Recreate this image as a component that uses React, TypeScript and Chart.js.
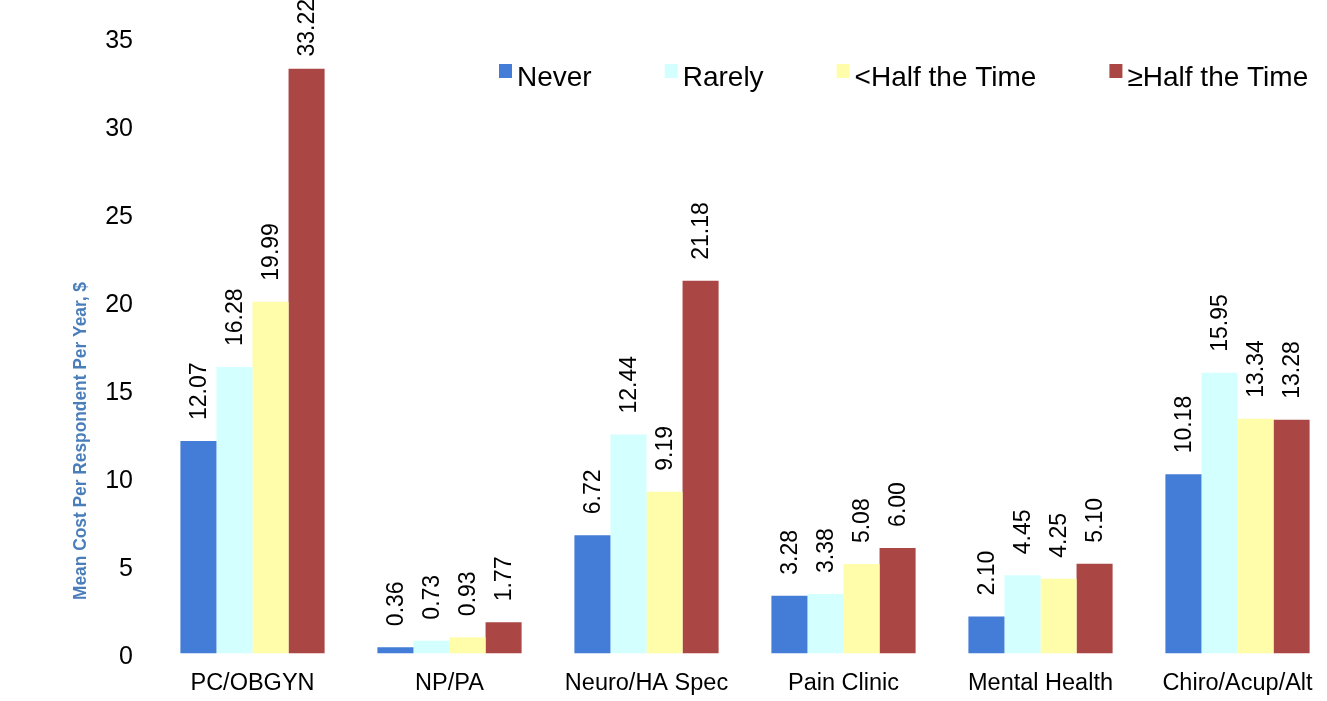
import React, { useEffect, useRef } from "react";
import { Chart, registerables } from "chart.js";

Chart.register(...registerables);

const categories = ["PC/OBGYN", "NP/PA", "Neuro/HA Spec", "Pain Clinic", "Mental Health", "Chiro/Acup/Alt"];
const seriesNames = ["Never", "Rarely", "<Half the Time", "\u2265Half the Time"];
const never = [12.07, 0.36, 6.72, 3.28, 2.1, 10.18];
const rarely = [16.28, 0.73, 12.44, 3.38, 4.45, 15.95];
const lessHalf = [19.99, 0.93, 9.19, 5.08, 4.25, 13.34];
const moreHalf = [33.22, 1.77, 21.18, 6.0, 5.1, 13.28];
const seriesColors = ["#437dd7", "#d3ffff", "#fffcaa", "#aa4643"];
const yTitle = "Mean Cost Per Respondent Per Year, $";
const yMin = 0;
const yMax = 35;
const yStep = 5;

const FONT = "'Liberation Sans', Arial, Helvetica, sans-serif";

const valueLabels = {
  id: "valueLabels",
  afterDatasetsDraw(chart: any) {
    const ctx = chart.ctx;
    ctx.save();
    ctx.font = `23px ${FONT}`;
    ctx.fillStyle = "#000";
    ctx.textAlign = "left";
    ctx.textBaseline = "middle";
    chart.data.datasets.forEach((ds: any, di: number) => {
      const meta = chart.getDatasetMeta(di);
      meta.data.forEach((el: any, i: number) => {
        const txt = Number(ds.data[i]).toFixed(2);
        const w = ctx.measureText(txt).width;
        const start = Math.max(el.y - 21, w - 1);
        ctx.save();
        ctx.translate(el.x + 1, start);
        ctx.rotate(-Math.PI / 2);
        ctx.fillText(txt, 0, 0);
        ctx.restore();
      });
    });
    ctx.restore();
  },
};

const customLegend = {
  id: "customLegend",
  afterDraw(chart: any) {
    const ctx = chart.ctx;
    ctx.save();
    ctx.font = `28px ${FONT}`;
    ctx.textBaseline = "alphabetic";
    ctx.textAlign = "left";
    let x = 499;
    chart.data.datasets.forEach((ds: any) => {
      ctx.fillStyle = ds.backgroundColor;
      ctx.fillRect(x, 64, 13, 14);
      ctx.fillStyle = "#000";
      ctx.fillText(ds.label, x + 18, 86);
      x += 18 + ctx.measureText(ds.label).width + 73;
    });
    ctx.restore();
  },
};

const yAxisTitle = {
  id: "yAxisTitle",
  afterDraw(chart: any) {
    const ctx = chart.ctx;
    ctx.save();
    ctx.font = `bold 18px ${FONT}`;
    ctx.fillStyle = "#4a7ebb";
    ctx.textAlign = "center";
    ctx.textBaseline = "middle";
    const w = ctx.measureText(yTitle).width;
    const targetLen = 318;
    ctx.translate(81, 441);
    ctx.rotate(-Math.PI / 2);
    ctx.scale(targetLen / w, 1);
    ctx.fillText(yTitle, 0, 0);
    ctx.restore();
  },
};

export default function App() {
  const ref = useRef<HTMLCanvasElement>(null);
  useEffect(() => {
    if (!ref.current) return;
    const values = [never, rarely, lessHalf, moreHalf];
    const chart = new Chart(ref.current, {
      type: "bar",
      data: {
        labels: categories,
        datasets: values.map((v, i) => ({
          label: seriesNames[i],
          data: v,
          backgroundColor: seriesColors[i],
          borderWidth: 0,
          categoryPercentage: 0.732,
          barPercentage: 1,
        })),
      },
      options: {
        responsive: false,
        maintainAspectRatio: false,
        animation: false,
        layout: { padding: { top: 37.5, left: 0, right: 9, bottom: 0 } },
        plugins: {
          legend: { display: false },
          tooltip: { enabled: false },
        },
        scales: {
          x: {
            grid: { display: false, drawTicks: false },
            border: { display: false },
            ticks: {
              font: { size: 23.5, family: FONT },
              color: "#000",
              padding: 15.5,
              maxRotation: 0,
              autoSkip: false,
            },
            afterFit: (s: any) => {
              s.height = 47.5;
            },
          },
          y: {
            min: yMin,
            max: yMax,
            grid: { display: false, drawTicks: false },
            border: { display: false },
            ticks: {
              stepSize: yStep,
              font: { size: 25, family: FONT },
              color: "#000",
              padding: 21,
              labelOffset: 4,
            },
            afterFit: (s: any) => {
              s.width = 154;
            },
          },
        },
      },
      plugins: [valueLabels, customLegend, yAxisTitle],
    });
    return () => chart.destroy();
  }, []);
  return (
    <div
      style={{
        position: "fixed",
        left: 0,
        top: 0,
        width: 1327,
        height: 701,
        overflow: "hidden",
        background: "#fff",
      }}
    >
      <canvas ref={ref} width={1345} height={701} style={{ display: "block" }} />
    </div>
  );
}
